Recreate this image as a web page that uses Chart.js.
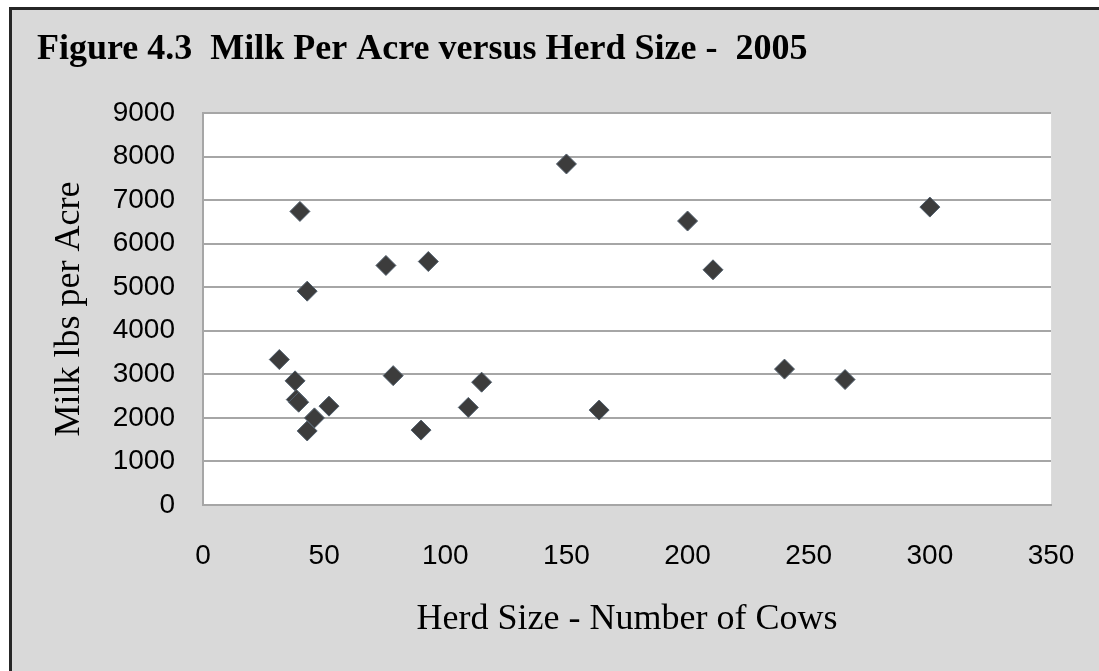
<!DOCTYPE html>
<html lang="en">
<head>
  <meta charset="UTF-8">
  <title>Milk Per Acre versus Herd Size</title>
  <script src="https://cdn.jsdelivr.net/npm/chart.js"></script>
  <style>
    html, body {
      margin: 0;
      padding: 0;
      background: #fff;
    }
    #wrap {
      position: relative;
      width: 1099px;
      height: 671px;
    }
  </style>
</head>
<body>
  <div id="wrap"><canvas id="grafico"></canvas></div>

  <script>
    // herd size (cows) and milk per acre (lbs)
    const herdSize = [31.5, 38, 38.5, 39.5, 40, 43, 43, 46, 52, 75.5, 78.5, 90, 93, 109.5, 115, 150, 163.5, 200, 210.5, 240, 265, 300];
    const milkPerAcre = [3340, 2850, 2420, 2360, 6740, 4910, 1700, 2000, 2270, 5500, 2970, 1720, 5590, 2240, 2820, 7830, 2180, 6520, 5400, 3120, 2880, 6840];

    const titulo = 'Figure 4.3  Milk Per Acre versus Herd Size -  2005';
    const tituloX = 'Herd Size - Number of Cows';
    const tituloY = 'Milk lbs per Acre';

    // frame, grey background, white plot area and the title
    const fundo = {
      id: 'fundo',
      beforeDraw(chart) {
        const { ctx, chartArea: a } = chart;
        ctx.save();
        ctx.fillStyle = '#fff';
        ctx.fillRect(0, 0, chart.width, chart.height);
        ctx.fillStyle = '#d9d9d9';
        ctx.fillRect(9, 7, chart.width - 9, chart.height - 7);
        ctx.fillStyle = '#262626';
        ctx.fillRect(9, 7, chart.width - 9, 3);
        ctx.fillRect(9, 7, 3, chart.height - 7);
        ctx.fillStyle = '#fff';
        ctx.fillRect(a.left, a.top, a.right - a.left, a.bottom - a.top);
        ctx.strokeStyle = '#dcdcdc';
        ctx.lineWidth = 1;
        ctx.beginPath();
        ctx.moveTo(a.right + 0.5, a.top);
        ctx.lineTo(a.right + 0.5, a.bottom);
        ctx.stroke();

        ctx.fillStyle = '#000';
        ctx.font = 'bold 36px "Liberation Serif", "Times New Roman", serif';
        ctx.textBaseline = 'alphabetic';
        ctx.textAlign = 'left';
        ctx.fillText(titulo, 37, 59);
        ctx.restore();
      }
    };

    const pontos = herdSize.map((x, i) => ({ x: x, y: milkPerAcre[i] }));
    const semVirgula = v => String(v);

    new Chart(document.getElementById('grafico'), {
      type: 'scatter',
      data: {
        datasets: [{
          data: pontos,
          pointStyle: 'rectRot',
          pointRadius: 10,
          pointBackgroundColor: '#3c3c3c',
          pointBorderColor: '#52606e',
          pointBorderWidth: 1
        }]
      },
      options: {
        responsive: true,
        maintainAspectRatio: false,
        animation: false,
        layout: {
          padding: { top: 113, right: 48, bottom: 30, left: 48 }
        },
        plugins: {
          legend: { display: false },
          tooltip: { enabled: false }
        },
        scales: {
          x: {
            type: 'linear',
            min: 0,
            max: 350,
            afterFit(scale) {
              scale.height = 136;
              scale.paddingLeft = 0;
              scale.paddingRight = 0;
            },
            ticks: {
              stepSize: 50,
              padding: 34,
              color: '#000',
              callback: semVirgula,
              font: { family: '"Liberation Sans", Arial, sans-serif', size: 28 }
            },
            grid: { display: false, drawTicks: false },
            border: { display: true, color: '#a6a6a6', width: 2 },
            title: {
              display: true,
              text: tituloX,
              color: '#000',
              padding: 0,
              font: { family: '"Liberation Serif", "Times New Roman", serif', size: 36, weight: 'normal' }
            }
          },
          y: {
            min: 0,
            max: 9000,
            afterFit(scale) { scale.width = 155; },
            ticks: {
              stepSize: 1000,
              padding: 28,
              color: '#000',
              callback: semVirgula,
              font: { family: '"Liberation Sans", Arial, sans-serif', size: 28 }
            },
            grid: { color: '#a6a6a6', lineWidth: 2, drawTicks: false },
            border: { display: true, color: '#a6a6a6', width: 2 },
            title: {
              display: true,
              text: tituloY,
              color: '#000',
              padding: 0,
              font: { family: '"Liberation Serif", "Times New Roman", serif', size: 36, weight: 'normal' }
            }
          }
        }
      },
      plugins: [fundo]
    });
  </script>
</body>
</html>
